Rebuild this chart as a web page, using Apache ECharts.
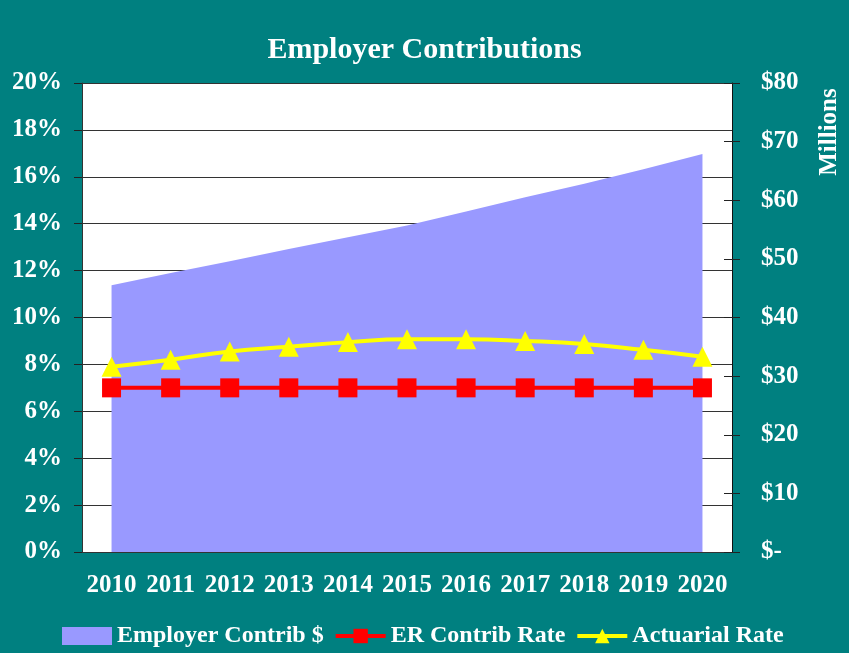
<!DOCTYPE html>
<html>
<head>
<meta charset="utf-8">
<script src="https://cdn.jsdelivr.net/npm/echarts@6/dist/echarts.min.js"></script>
<style>
  html, body { margin: 0; padding: 0; background: #008080; }
  #chart { width: 849px; height: 653px; }
</style>
</head>
<body>
<div id="chart"></div>
<script>
let years = ['2010', '2011', '2012', '2013', '2014', '2015', '2016', '2017', '2018', '2019', '2020'];

// $ millions, right axis
let contribDollars = [45.5, 47.6, 49.6, 51.7, 53.7, 55.7, 58.1, 60.5, 62.8, 65.3, 67.9];
// percent, left axis
let erContribRate = [7.0, 7.0, 7.0, 7.0, 7.0, 7.0, 7.0, 7.0, 7.0, 7.0, 7.0];
let actuarialRate = [7.9, 8.2, 8.55, 8.75, 8.95, 9.07, 9.07, 9.0, 8.87, 8.62, 8.33];

let seriesNames = ['Employer Contrib $', 'ER Contrib Rate', 'Actuarial Rate'];

let font = 'Liberation Serif, Times New Roman, serif';
let labelStyle = {color: '#fff', fontFamily: font, fontWeight: 'bold', fontSize: 25};

let option = {
  backgroundColor: '#008080',
  animation: false,
  title: {
    text: 'Employer Contributions',
    left: 'center',
    top: 30,
    textStyle: {color: '#fff', fontFamily: font, fontWeight: 'bold', fontSize: 30}
  },
  grid: {
    left: 82,
    right: 117,
    top: 83,
    bottom: 101,
    show: true,
    backgroundColor: '#fff',
    borderWidth: 0
  },
  legend: {
    bottom: 0,
    left: 57,
    itemWidth: 50,
    itemHeight: 18,
    itemGap: 10,
    lineStyle: {width: 4},
    textStyle: {color: '#fff', fontFamily: font, fontWeight: 'bold', fontSize: 24},
    data: [
      {name: seriesNames[0], icon: 'rect'},
      {name: seriesNames[1]},
      {name: seriesNames[2]}
    ]
  },
  xAxis: {
    type: 'category',
    data: years,
    boundaryGap: true,
    axisLine: {lineStyle: {color: '#333', width: 1}},
    axisTick: {show: false},
    axisLabel: Object.assign({margin: 21, interval: 0}, labelStyle),
    splitLine: {show: false}
  },
  yAxis: [
    {
      type: 'value',
      position: 'left',
      min: 0,
      max: 20,
      interval: 2,
      axisLine: {show: true, lineStyle: {color: '#333'}},
      axisTick: {show: true, length: 8, lineStyle: {color: '#222'}},
      axisLabel: Object.assign({margin: 20, formatter: '{value}%'}, labelStyle),
      splitLine: {show: true, lineStyle: {color: '#333', width: 1}}
    },
    {
      type: 'value',
      position: 'right',
      min: 0,
      max: 80,
      interval: 10,
      axisLine: {show: true, lineStyle: {color: '#111'}},
      axisTick: {show: true, length: 8, lineStyle: {color: '#222'}},
      axisLabel: Object.assign({
        margin: 29,
        formatter: function (v) { return v === 0 ? '$-' : '$' + v; }
      }, labelStyle),
      splitLine: {show: false}
    },
    {
      // inside half of the right ticks
      type: 'value',
      position: 'right',
      min: 0,
      max: 80,
      interval: 10,
      axisLine: {show: false},
      axisTick: {show: true, inside: true, length: 8, lineStyle: {color: '#222'}},
      axisLabel: {show: false},
      splitLine: {show: false}
    }
  ],
  series: [
    {
      name: seriesNames[0],
      type: 'line',
      yAxisIndex: 1,
      data: contribDollars,
      symbol: 'none',
      lineStyle: {width: 0},
      itemStyle: {color: '#9999FF'},
      areaStyle: {color: '#9999FF', opacity: 1},
      z: 1
    },
    {
      name: seriesNames[1],
      type: 'line',
      yAxisIndex: 0,
      data: erContribRate,
      symbol: 'rect',
      symbolSize: 19,
      lineStyle: {color: '#FF0000', width: 4},
      itemStyle: {color: '#FF0000'},
      z: 3
    },
    {
      name: seriesNames[2],
      type: 'line',
      yAxisIndex: 0,
      data: actuarialRate,
      smooth: true,
      symbol: 'triangle',
      symbolSize: [20, 20],
      lineStyle: {color: '#FFFF00', width: 4},
      itemStyle: {color: '#FFFF00'},
      z: 4
    }
  ],
  graphic: [
    {
      type: 'text',
      x: 830,
      y: 132,
      rotation: Math.PI / 2,
      style: {
        text: 'Millions',
        fill: '#fff',
        font: 'bold 25px ' + font,
        align: 'center',
        verticalAlign: 'middle'
      }
    }
  ]
};

let chart = echarts.init(document.getElementById('chart'));
chart.setOption(option);
</script>
</body>
</html>
